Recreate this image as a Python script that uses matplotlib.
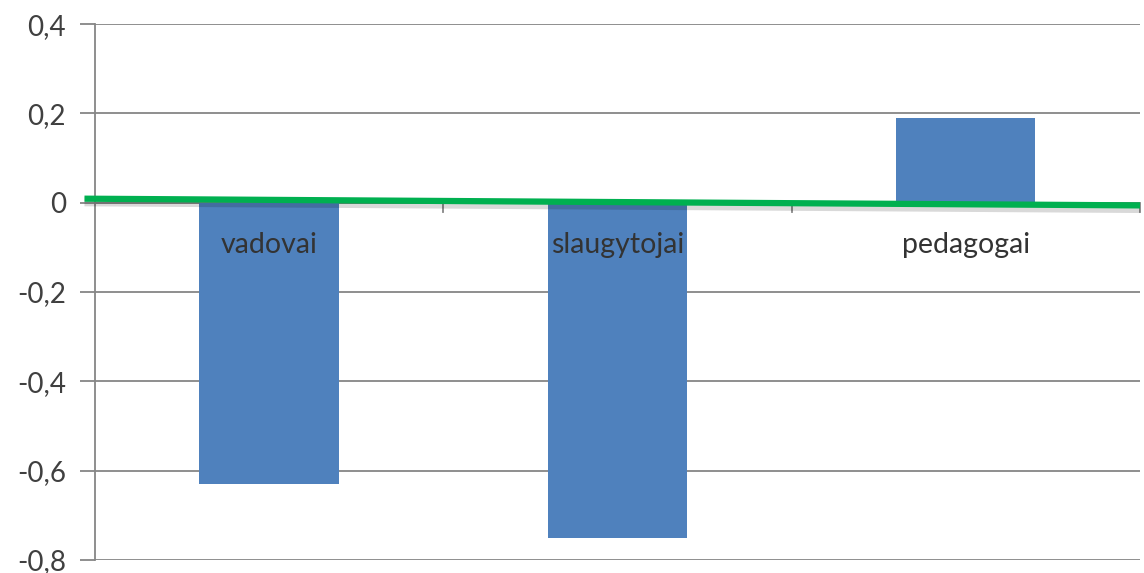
import numpy as np
import matplotlib.pyplot as plt
import matplotlib.patheffects as pe

plt.rcParams['font.family'] = ['Lato', 'DejaVu Sans']

categories = ['vadovai', 'slaugytojai', 'pedagogai']
values = [-0.63, -0.75, 0.19]
# straight line running across the whole plot (value at left and right edge)
line_ends = [0.009, -0.006]
y_ticks = [0.4, 0.2, 0.0, -0.2, -0.4, -0.6, -0.8]

grid_color = '#868686'
bar_color = '#4F81BD'
line_color = '#00B050'

fig = plt.figure(figsize=(11.44, 5.73), dpi=100)
ax = fig.add_axes([0.083, 0.0227, 0.9135, 0.9353])

x = np.arange(len(categories))
ax.bar(x, values, width=0.4, color=bar_color, zorder=3)

ax.set_xlim(-0.5, len(categories) - 0.5)
ax.set_ylim(-0.8, 0.4)

ax.set_yticks(y_ticks)
ax.set_yticklabels([('%g' % v).replace('.', ',') for v in y_ticks],
                   fontsize=20, color='#404040')
ax.tick_params(axis='y', length=11, width=1.3, color=grid_color, pad=10)
ax.yaxis.grid(True, color=grid_color, linewidth=1.3, zorder=0)

# category labels sit just under the zero line
ax.set_xticks([])
for xi, name in zip(x, categories):
    ax.text(xi, -0.095, name, ha='center', va='center', fontsize=20.5,
            color='#333333', zorder=5)

# zero axis with tick marks between categories
ax.axhline(0, color=grid_color, linewidth=1.3, zorder=2)
for b in np.arange(0.5, len(categories), 1.0):
    ax.plot([b, b], [0, -0.02], color=grid_color, linewidth=1.3,
            zorder=2, clip_on=False)

for side in ['top', 'right', 'bottom']:
    ax.spines[side].set_visible(False)
ax.spines['left'].set_color(grid_color)
ax.spines['left'].set_linewidth(1.3)

lx = [-0.53, len(categories) - 0.5]
ax.plot(lx, line_ends, color=line_color, linewidth=4.5, zorder=4,
        clip_on=False, solid_capstyle='butt',
        path_effects=[pe.SimpleLineShadow(offset=(0, -2), alpha=0.15,
                                          shadow_color='black',
                                          linewidth=7),
                      pe.Normal()])

fig.savefig('out.png', dpi=100)
